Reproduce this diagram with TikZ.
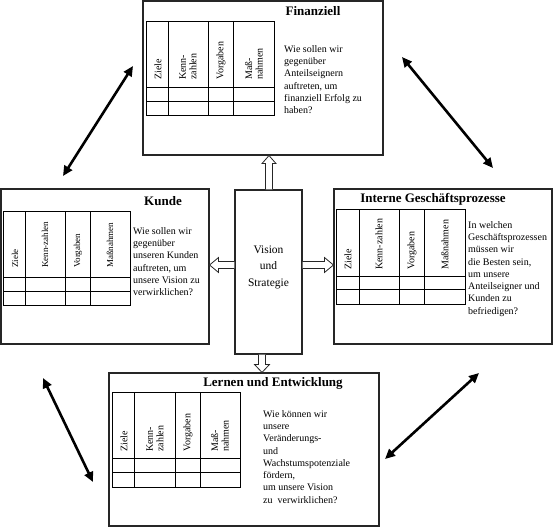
\documentclass[tikz,border=0pt]{standalone}
\usepackage{fontspec}
\setmainfont{Liberation Serif}
\usetikzlibrary{calc,arrows.meta}
\newcommand\BSCtab[9]{%
  \draw[tabline] (#1,#6) rectangle (#5,#9);
  \draw[tabline] (#2,#6) -- (#2,#9) (#3,#6) -- (#3,#9) (#4,#6) -- (#4,#9)
                 (#1,#7) -- (#5,#7) (#1,#8) -- (#5,#8);
}
\tikzset{
  box/.style={draw=black!85, line width=1.1pt, rectangle, inner sep=0pt},
  tabline/.style={draw=black, line width=0.9pt},
  ttl/.style={font=\fontsize{13}{15}\selectfont\bfseries, inner sep=0pt},
  qtext/.style={font=\fontsize{10}{12.3}\selectfont, align=left, anchor=north west, inner sep=0pt},
  lab/.style={rotate=90, anchor=west, font=\fontsize{10}{10.5}\selectfont, align=left, inner sep=0pt},
  labsmall/.style={lab, font=\fontsize{9}{10}\selectfont},
  hollow/.style={draw=black!85, line width=0.8pt, fill=white},
  dbl/.style={line width=2.6pt, {Triangle[length=10pt,width=9pt]}-{Triangle[length=10pt,width=9pt]}},
}
\begin{document}
\begin{tikzpicture}[x=1pt,y=-1pt]
\useasboundingbox (0,0) rectangle (553,527);

% boxes
\node[box, minimum width=240pt, minimum height=154pt] (fin) at (263,78) {};
\node[box, minimum width=208pt, minimum height=155pt] (kun) at (105,266.5) {};
\node[box, minimum width=218pt, minimum height=155pt] (int) at (443,266.5) {};
\node[box, minimum width=270pt, minimum height=153pt] (lern) at (244,449.5) {};
\node[box, minimum width=67pt, minimum height=164pt] (vis) at (268.5,272) {};

% titles
\node[ttl] (tfin) at (313,11) {Finanziell};
\node[ttl] (tkun) at (163,201) {Kunde};
\node[ttl] (tint) at (433,199) {Interne Geschäftsprozesse};
\node[ttl] (tlern) at (273,383) {Lernen und Entwicklung};

% vision text
\node[font=\fontsize{11.5}{16.5}\selectfont, align=center, inner sep=0pt] (vtxt) at (268.5,267) {Vision\\und\\Strategie};

% tables
\BSCtab{146}{168}{208}{233}{274}{21}{87}{101}{115}
\BSCtab{3}{25}{65}{90}{130}{211}{277}{291}{305}
\BSCtab{336}{359}{399}{424}{465}{209}{276}{289}{304}
\BSCtab{112}{134}{175}{200}{240}{392}{458}{472}{487}

% table labels
\node[lab] (f1) at (158,80) {Ziele};
\node[lab] (f2) at (188,80) {Kenn-\\zahlen};
\node[lab] (f3) at (221,80) {Vorgaben};
\node[lab] (f4) at (254,80) {Maß-\\nahmen};

\node[labsmall] (k1) at (15,268) {Ziele};
\node[labsmall] (k2) at (45,268) {Kenn-zahlen};
\node[labsmall] (k3) at (78,268) {Vorgaben};
\node[labsmall] (k4) at (110,268) {Maßnahmen};

\node[lab] (i1) at (348,270) {Ziele};
\node[lab] (i2) at (379,270) {Kenn-zahlen};
\node[lab] (i3) at (412,270) {Vorgaben};
\node[lab] (i4) at (445,270) {Maßnahmen};

\node[lab] (l1) at (124,452) {Ziele};
\node[lab] (l2) at (155,452) {Kenn-\\zahlen};
\node[lab] (l3) at (188,452) {Vorgaben};
\node[lab] (l4) at (220,452) {Maß-\\nahmen};

% question texts
\node[qtext] (qfin) at (284,45) {Wie sollen wir\\gegenüber\\Anteilseignern\\auftreten, um\\finanziell Erfolg zu\\haben?};
\node[qtext] (qkun) at (133,227) {Wie sollen wir\\gegenüber\\unseren Kunden\\auftreten, um\\unsere Vision zu\\verwirklichen?};
\node[qtext] (qint) at (468,221) {In welchen\\Geschäftsprozessen\\müssen wir\\die Besten sein,\\um unsere\\Anteilseigner und\\Kunden zu\\befriedigen?};
\node[qtext] (qlern) at (263,410) {Wie können wir\\unsere\\Veränderungs-\\und\\Wachstumspotenziale\\fördern,\\um unsere Vision\\zu~ verwirklichen?};

% hollow block arrows
% up
\coordinate (ua) at ($(vis.north)+(0.5,0)$);
\coordinate (ut) at (ua |- fin.south);
\draw[hollow] ($(ua)+(-3.5,0)$) -- ($(ut)+(-3.5,8)$) -- ($(ut)+(-7,8)$) -- (ut)
  -- ($(ut)+(7,8)$) -- ($(ut)+(3.5,8)$) -- ($(ua)+(3.5,0)$);
% down
\coordinate (da) at ($(vis.south)+(-6.5,0)$);
\coordinate (dt) at (da |- lern.north);
\draw[hollow] ($(da)+(-3.5,0)$) -- ($(dt)+(-3.5,-8)$) -- ($(dt)+(-7.5,-8)$) -- (dt)
  -- ($(dt)+(7.5,-8)$) -- ($(dt)+(3.5,-8)$) -- ($(da)+(3.5,0)$);
% left
\coordinate (la) at ($(vis.west)+(0,-7)$);
\coordinate (lt) at (la -| kun.east);
\draw[hollow] ($(la)+(0,-3.5)$) -- ($(lt)+(9,-3.5)$) -- ($(lt)+(9,-7.5)$) -- (lt)
  -- ($(lt)+(9,7.5)$) -- ($(lt)+(9,3.5)$) -- ($(la)+(0,3.5)$);
% right
\coordinate (ra) at ($(vis.east)+(0,-7)$);
\coordinate (rt) at (ra -| int.west);
\draw[hollow] ($(ra)+(0,-3.5)$) -- ($(rt)+(-9,-3.5)$) -- ($(rt)+(-9,-7.5)$) -- (rt)
  -- ($(rt)+(-9,7.5)$) -- ($(rt)+(-9,3.5)$) -- ($(ra)+(0,3.5)$);

% diagonal double arrows
\coordinate (a1s) at (63,176);  \coordinate (a1e) at (133,66);
\coordinate (a2s) at (402,57);  \coordinate (a2e) at (493,168);
\coordinate (a3s) at (43,378);  \coordinate (a3e) at (93,482);
\coordinate (a4s) at (385,459); \coordinate (a4e) at (479,373);
\draw[dbl] (a1s) -- (a1e);
\draw[dbl] (a2s) -- (a2e);
\draw[dbl] (a3s) -- (a3e);
\draw[dbl] (a4s) -- (a4e);
\end{tikzpicture}
\end{document}
